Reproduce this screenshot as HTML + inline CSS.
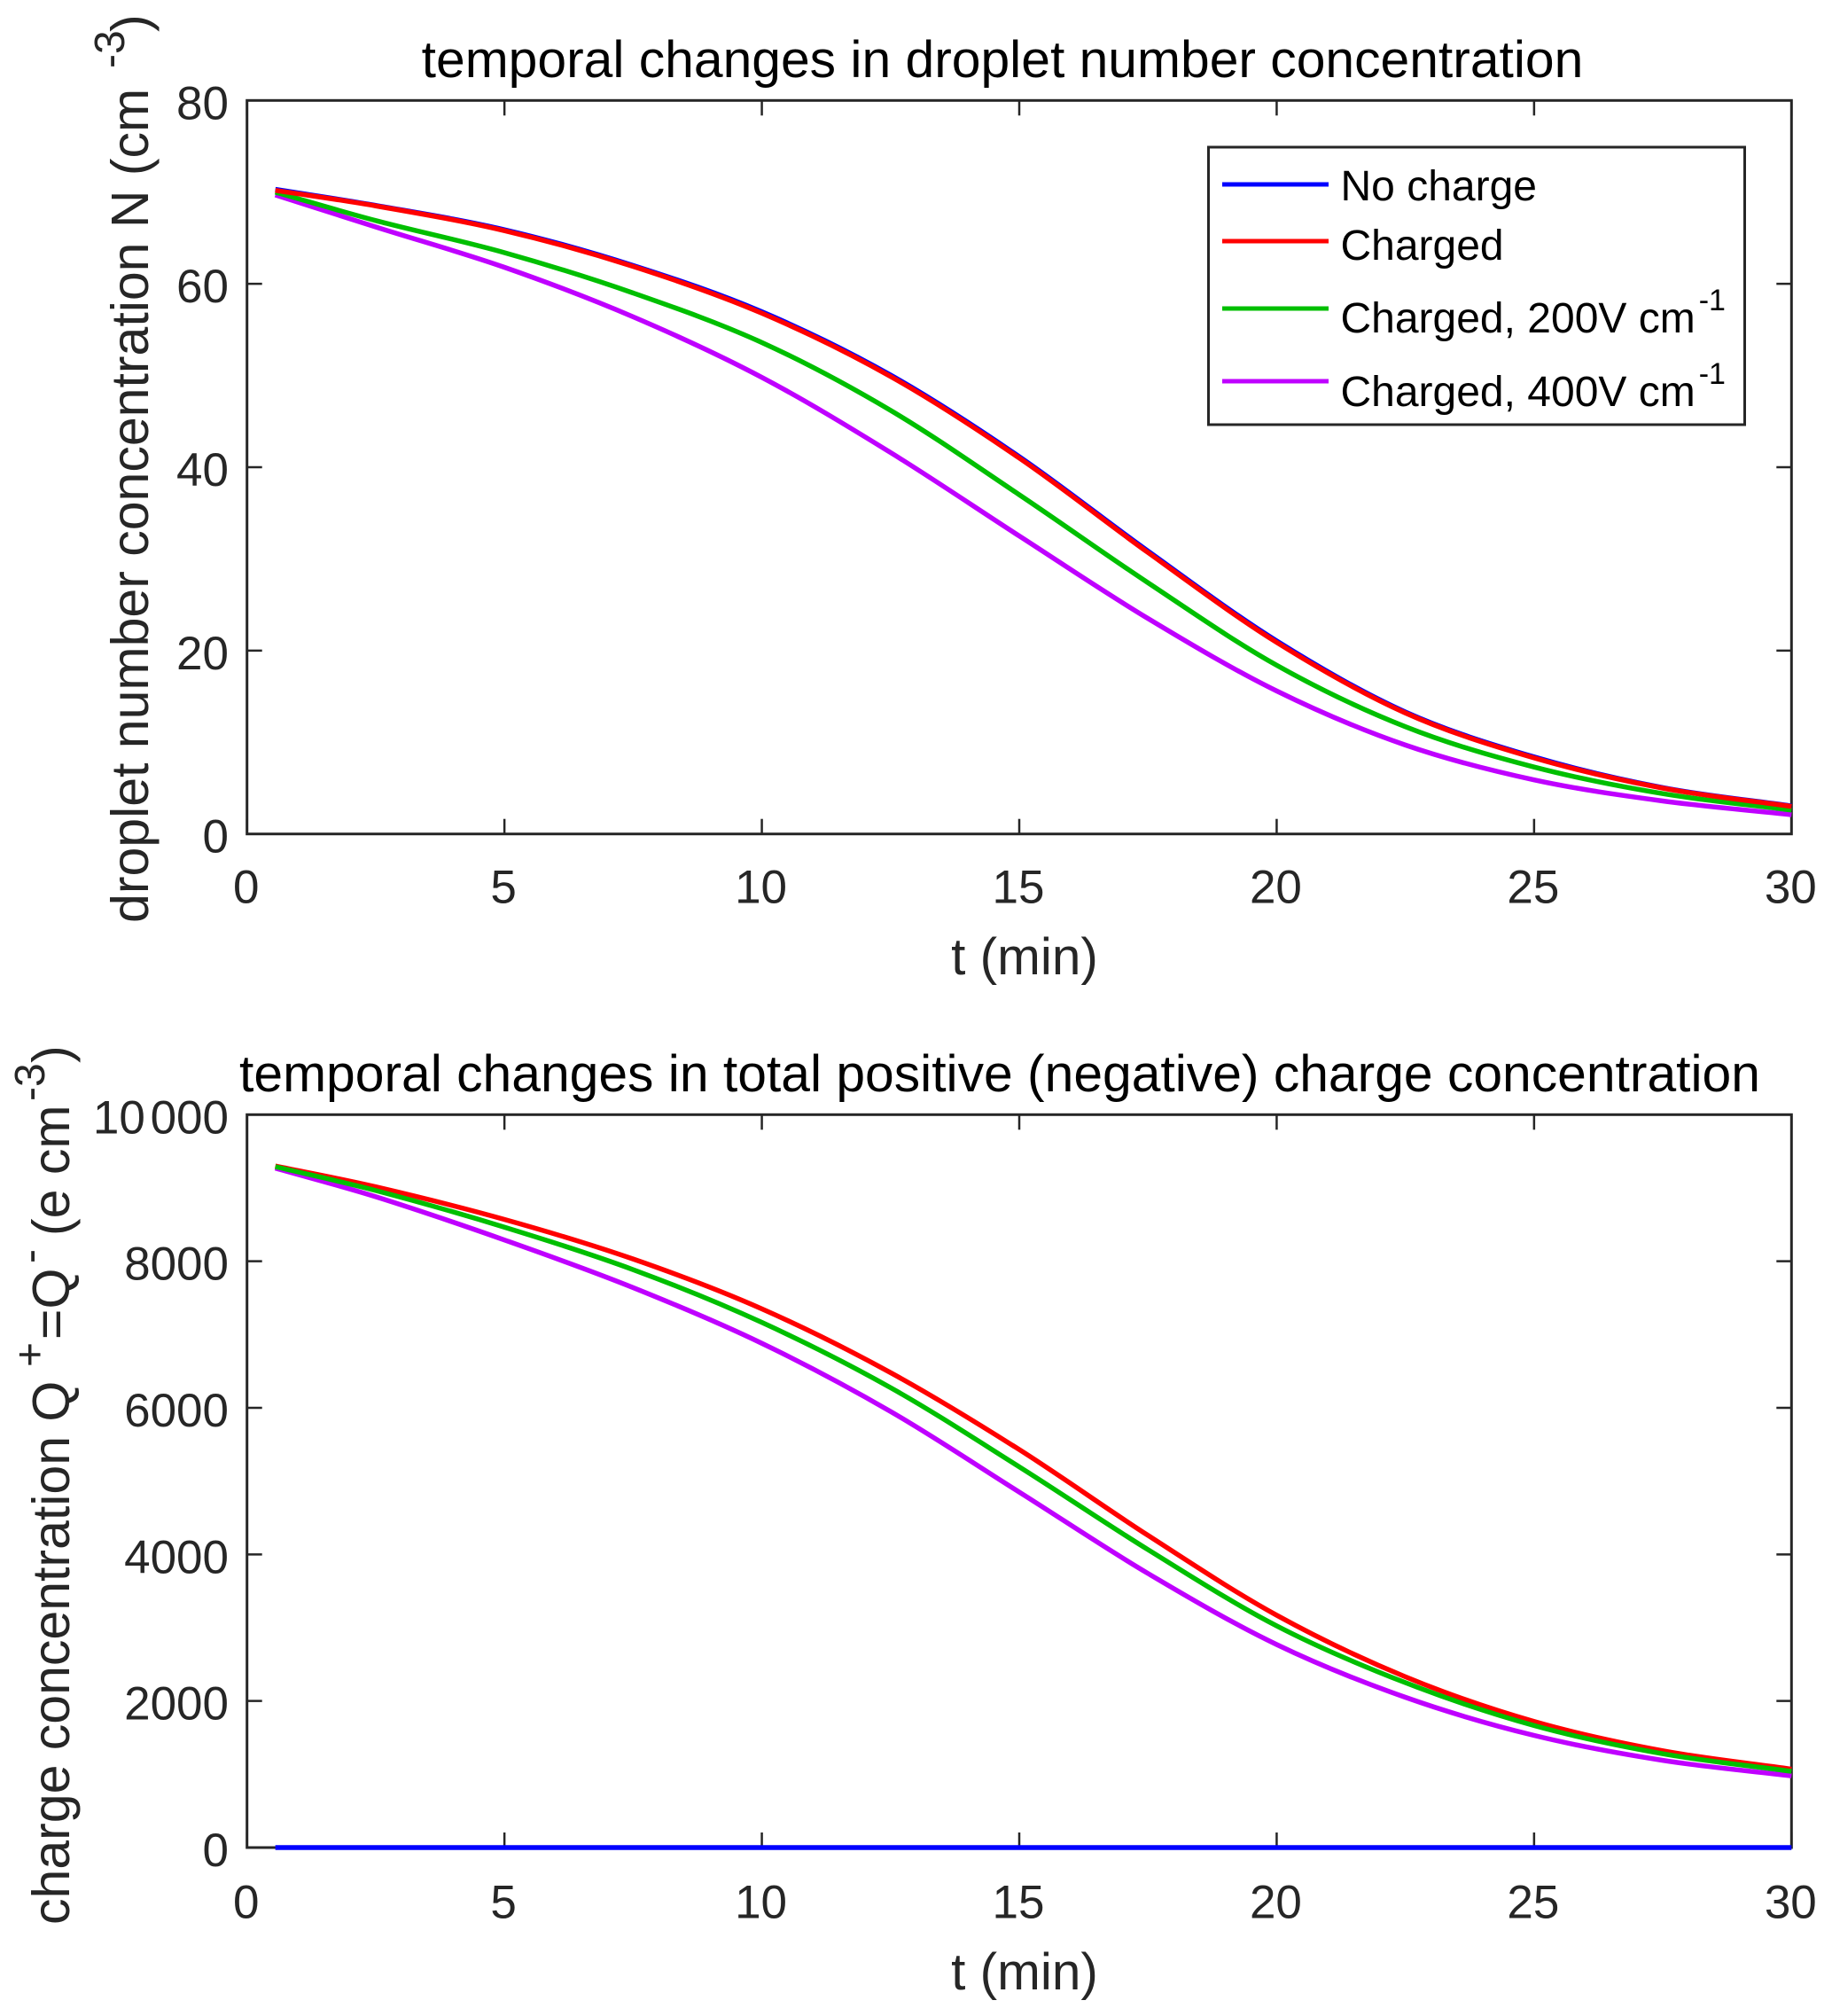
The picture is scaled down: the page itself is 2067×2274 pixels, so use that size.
<!DOCTYPE html>
<html lang="en">
<head>
<meta charset="utf-8">
<title>Temporal changes in droplet number and charge concentration</title>
<style>
  html, body { margin: 0; padding: 0; background: #fff; }
  svg { display: block; font-family: "Liberation Sans", Arial, sans-serif; }
  .tick-label { font-size: 53px; fill: #262626; word-spacing: -9px; }
  .axis-label { font-size: 58.5px; fill: #262626; }
  .y-label { font-size: 59px; fill: #262626; }
  .chart-title { font-size: 58.8px; fill: #000; }
  .legend-text { font-size: 48px; fill: #000; }
</style>
</head>
<body>
<svg id="chart" width="2067" height="2274" viewBox="0 0 2067 2274" xmlns="http://www.w3.org/2000/svg">
  <rect x="0" y="0" width="2067" height="2274" fill="#fff"/>

  <g id="panel-top"></g>
  <g id="panel-bottom"></g>

  <text class="chart-title" x="1131" y="87" text-anchor="middle">temporal changes in droplet number concentration</text>
  <text class="chart-title" x="1128" y="1231" text-anchor="middle">temporal changes in total positive (negative) charge concentration</text>

  <text class="axis-label" x="1156" y="1099" text-anchor="middle">t (min)</text>
  <text class="axis-label" x="1156" y="2244" text-anchor="middle">t (min)</text>

  <text class="y-label" transform="translate(167,1041) rotate(-90)">droplet number concentration N (cm<tspan x="964" dy="-27" font-size="48">-3</tspan><tspan x="1005" dy="27">)</tspan></text>
  <text class="y-label" transform="translate(78,2171) rotate(-90)">charge concentration Q<tspan x="629" dy="-28" font-size="48">+</tspan><tspan x="660" dy="28">=Q</tspan><tspan x="746" dy="-28" font-size="48">-</tspan><tspan x="777" dy="28">(e cm</tspan><tspan x="929" dy="-28" font-size="48">-3</tspan><tspan x="972" dy="28">)</tspan></text>

  <g>
    <rect x="1363.5" y="166" width="605" height="313" fill="#fff" stroke="#262626" stroke-width="3"/>
    <line x1="1379" x2="1499" y1="208" y2="208" stroke="#0000ff" stroke-width="5"/>
    <line x1="1379" x2="1499" y1="272" y2="272" stroke="#ff0000" stroke-width="5"/>
    <line x1="1379" x2="1499" y1="348" y2="348" stroke="#00bf00" stroke-width="5"/>
    <line x1="1379" x2="1499" y1="430" y2="430" stroke="#bf00ff" stroke-width="5"/>
    <text class="legend-text" x="1512.5" y="226">No charge</text>
    <text class="legend-text" x="1512.5" y="293">Charged</text>
    <text class="legend-text" x="1512.5" y="375">Charged, 200V cm<tspan dx="4" dy="-25" font-size="34">-1</tspan></text>
    <text class="legend-text" x="1512.5" y="458">Charged, 400V cm<tspan dx="4" dy="-25" font-size="34">-1</tspan></text>
  </g>
</svg>

<script>
const xTicks = [0, 5, 10, 15, 20, 25, 30];
const xTickLabels = ['0', '5', '10', '15', '20', '25', '30'];
const tValues = [0.55, 2.5, 5, 7.5, 10, 12.5, 15, 17.5, 20, 22.5, 25, 27.5, 30];

const dropletTicks = [0, 20, 40, 60, 80];
const dropletTickLabels = ['0', '20', '40', '60', '80'];
const dropletNoCharge = [70.3, 68.55, 65.9, 62.0, 56.95, 50.05, 41.15, 30.85, 21.05, 13.3, 8.4, 5.05, 3.05];
const dropletCharged = [70.2, 68.5, 65.8, 61.9, 56.8, 49.9, 41.0, 30.7, 20.9, 13.2, 8.3, 5.0, 3.0];
const dropletCharged200 = [70.0, 66.9, 63.4, 59.0, 53.6, 46.2, 37.0, 27.4, 18.4, 11.7, 7.3, 4.4, 2.6];
const dropletCharged400 = [69.7, 66.2, 61.8, 56.4, 49.8, 41.6, 32.5, 23.5, 15.6, 9.7, 5.9, 3.6, 2.1];

const chargeTicks = [0, 2000, 4000, 6000, 8000, 10000];
const chargeTickLabels = ['0', '2000', '4000', '6000', '8000', '10 000'];
const chargeNoCharge = [0, 0, 0, 0, 0, 0, 0, 0, 0, 0, 0, 0, 0];
const chargeCharged = [9300, 9015, 8570, 8030, 7350, 6480, 5430, 4260, 3170, 2330, 1720, 1320, 1070];
const chargeCharged200 = [9290, 8965, 8465, 7885, 7165, 6275, 5195, 4065, 3025, 2250, 1665, 1280, 1040];
const chargeCharged400 = [9270, 8880, 8290, 7640, 6880, 5950, 4850, 3740, 2770, 2050, 1530, 1190, 978];

const SVG_NS = 'http://www.w3.org/2000/svg';
const PLOT_LEFT = 278.7;
const PLOT_RIGHT = 2021.3;
const X_MAX = 30;

function xScale(t) {
  return PLOT_LEFT + (t / X_MAX) * (PLOT_RIGHT - PLOT_LEFT);
}

function makeYScale(top, bottom, maxValue) {
  return function (v) {
    return bottom - (v / maxValue) * (bottom - top);
  };
}

function smoothPath(ts, values, yScale) {
  const px = ts.map(xScale);
  const py = values.map(yScale);
  const n = px.length;
  const slopes = [];
  for (let i = 0; i < n; i++) {
    const a = Math.max(0, i - 1);
    const b = Math.min(n - 1, i + 1);
    slopes.push((py[b] - py[a]) / (px[b] - px[a]));
  }
  let d = 'M' + px[0].toFixed(2) + ' ' + py[0].toFixed(2);
  for (let i = 0; i < n - 1; i++) {
    const h = (px[i + 1] - px[i]) / 3;
    d += ' C' + (px[i] + h).toFixed(2) + ' ' + (py[i] + slopes[i] * h).toFixed(2) +
      ' ' + (px[i + 1] - h).toFixed(2) + ' ' + (py[i + 1] - slopes[i + 1] * h).toFixed(2) +
      ' ' + px[i + 1].toFixed(2) + ' ' + py[i + 1].toFixed(2);
  }
  return d;
}

function drawTickLine(parent, x1, y1, x2, y2, name) {
  const line = document.createElementNS(SVG_NS, 'line');
  line.setAttribute('x1', x1);
  line.setAttribute('y1', y1);
  line.setAttribute('x2', x2);
  line.setAttribute('y2', y2);
  line.setAttribute('stroke', '#262626');
  line.setAttribute('stroke-width', '2.5');
  
  
  parent.appendChild(line);
}

function drawLabel(parent, x, y, anchor, content, name) {
  const label = document.createElementNS(SVG_NS, 'text');
  label.setAttribute('x', x);
  label.setAttribute('y', y);
  label.setAttribute('text-anchor', anchor);
  label.setAttribute('class', 'tick-label');
  
  
  label.textContent = content;
  parent.appendChild(label);
}

function drawSeries(parent, values, yScale, color, name) {
  const path = document.createElementNS(SVG_NS, 'path');
  path.setAttribute('d', smoothPath(tValues, values, yScale));
  path.setAttribute('fill', 'none');
  path.setAttribute('stroke', color);
  path.setAttribute('stroke-width', '5.5');
  path.setAttribute('stroke-linejoin', 'round');
  
  
  parent.appendChild(path);
}

function drawPanel(groupId, prefix, top, bottom, yTicks, yTickLabels, yMax, series, xLabelBaseline) {
  const group = document.getElementById(groupId);
  const yScale = makeYScale(top, bottom, yMax);
  const tickLen = 17;

  xTicks.forEach(function (t, i) {
    const x = xScale(t);
    drawTickLine(group, x, bottom, x, bottom - tickLen, prefix + '-x-tick-bottom-' + xTickLabels[i]);
    drawTickLine(group, x, top, x, top + tickLen, prefix + '-x-tick-top-' + xTickLabels[i]);
    drawLabel(group, x - 1, xLabelBaseline, 'middle', xTickLabels[i], prefix + '-x-tick-label-' + xTickLabels[i]);
  });

  yTicks.forEach(function (v, i) {
    const y = yScale(v);
    drawTickLine(group, PLOT_LEFT, y, PLOT_LEFT + tickLen, y, prefix + '-y-tick-left-' + v);
    drawTickLine(group, PLOT_RIGHT, y, PLOT_RIGHT - tickLen, y, prefix + '-y-tick-right-' + v);
    drawLabel(group, 258, y + 21, 'end', yTickLabels[i], prefix + '-y-tick-label-' + v);
  });

  series.forEach(function (s) {
    drawSeries(group, s.values, yScale, s.color, prefix + '-line-' + s.name);
  });

  const frame = document.createElementNS(SVG_NS, 'rect');
  frame.setAttribute('x', PLOT_LEFT);
  frame.setAttribute('y', top);
  frame.setAttribute('width', PLOT_RIGHT - PLOT_LEFT);
  frame.setAttribute('height', bottom - top);
  frame.setAttribute('fill', 'none');
  frame.setAttribute('stroke', '#262626');
  frame.setAttribute('stroke-width', '3');
  
  
  group.insertBefore(frame, group.firstChild);
}

drawPanel('panel-top', 'droplet', 113.3, 940.7, dropletTicks, dropletTickLabels, 80, [
  { name: 'no-charge', color: '#0000ff', values: dropletNoCharge },
  { name: 'charged-400v', color: '#bf00ff', values: dropletCharged400 },
  { name: 'charged-200v', color: '#00bf00', values: dropletCharged200 },
  { name: 'charged', color: '#ff0000', values: dropletCharged }
], 1018.5);

drawPanel('panel-bottom', 'charge', 1257.3, 2084, chargeTicks, chargeTickLabels, 10000, [
  { name: 'charged-400v', color: '#bf00ff', values: chargeCharged400 },
  { name: 'charged', color: '#ff0000', values: chargeCharged },
  { name: 'charged-200v', color: '#00bf00', values: chargeCharged200 },
  { name: 'no-charge', color: '#0000ff', values: chargeNoCharge }
], 2163.5);
</script>
</body>
</html>
